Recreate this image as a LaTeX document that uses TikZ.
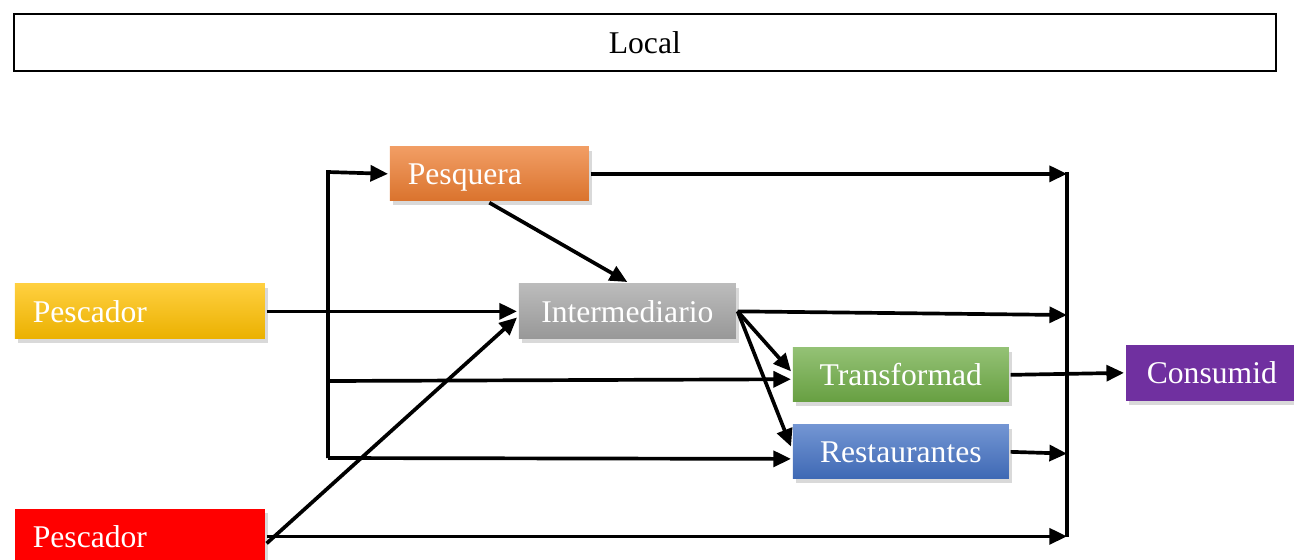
\documentclass[tikz,border=0pt]{standalone}
\usepackage{fontspec}
\setmainfont{Liberation Serif}
\usetikzlibrary{arrows.meta,positioning,shadows}
\definecolor{pescgold}{RGB}{255,192,0}
\definecolor{pesqorange}{RGB}{237,125,49}
\definecolor{intergray}{RGB}{165,165,165}
\definecolor{transgreen}{RGB}{112,173,71}
\definecolor{restblue}{RGB}{68,114,196}
\definecolor{consumpurple}{RGB}{112,48,160}

\tikzset{
  caja/.style={anchor=north west,inner sep=0pt,text=white,text depth=0pt,
    font=\fontsize{18}{20}\selectfont,
    drop shadow={opacity=.3,shadow xshift=2pt,shadow yshift=-2.5pt}},
  cajaizq/.style={caja,align=left,inner xsep=.36cm},
  degradado/.style={top color=#1!75!white,bottom color=#1!92!black}
}

\begin{document}
\begin{tikzpicture}[x=0.02cm,y=-0.02cm,>={Triangle[length=10pt,width=9pt]},line width=2.1pt]
\useasboundingbox (0,0) rectangle (1294,559);
% Cabecera
\node[anchor=north west,draw,line width=1.1pt,minimum width=25.24cm,minimum height=1.14cm,
 font=\fontsize{18}{20}\selectfont] (local) at (13,13) {Local};
% Actores de la cadena
\node[cajaizq,degradado=pescgold,text width=4.28cm,minimum height=1.1cm] (pescadorA) at (13,282) {Pescador};
\node[cajaizq,fill=red,text width=4.28cm,minimum height=1.1cm] (pescadorB) at (13,507) {Pescador};
\node[cajaizq,degradado=pesqorange,text width=3.26cm,minimum height=1.08cm] (pesquera) at (388,145) {Pesquera};
\node[caja,degradado=intergray,minimum width=4.34cm,minimum height=1.1cm] (interm) at (517,282) {Intermediario};
\node[caja,degradado=transgreen,minimum width=4.32cm,minimum height=1.08cm] (transf) at (791,346) {Transformad};
\node[caja,degradado=restblue,minimum width=4.32cm,minimum height=1.08cm] (rest) at (791,423) {Restaurantes};
\node[caja,fill=consumpurple,minimum width=3.44cm,minimum height=1.12cm] (consum) at (1124,343) {Consumid};
% Barra de reparto a la izquierda y barra colectora a la derecha
\coordinate (splitTop) at (328,172);
\coordinate (splitMid) at (328,381);
\coordinate (splitBot) at (328,458);
\coordinate (barTop) at (1067,172);
\coordinate (barBot) at (1067,537);
\coordinate (barInterm) at (1067,315);
\draw (barTop) -- (barBot);
\draw[->] (splitBot) -- (splitTop) -- (pesquera.west);
\draw[->] (splitMid) -- ([yshift=-2.5pt]transf.west);
\draw[->] (splitBot) -- ([yshift=-4pt]rest.west);
% Flujos
\draw[->] (pescadorA.east) -- (interm.west);
\draw[->] ([yshift=-4pt]pescadorB.east) -- ([yshift=-3.5pt]interm.west);
\draw[->] (pescadorB.east) -- (pescadorB.east -| barTop);
\draw[->] (pesquera.south) -- (interm.north);
\draw[->] (pesquera.east) -- (pesquera.east -| barTop);
\draw[->] (interm.east) -- (barInterm);
\draw[->] (interm.east) -- ([yshift=2pt]transf.west);
\draw[->] (interm.east) -- ([yshift=3pt]rest.west);
\draw[->] (rest.east) -- ([yshift=-1pt]rest.east -| barTop);
\draw[->] (transf.east) -- (consum.west);
\end{tikzpicture}
\end{document}
